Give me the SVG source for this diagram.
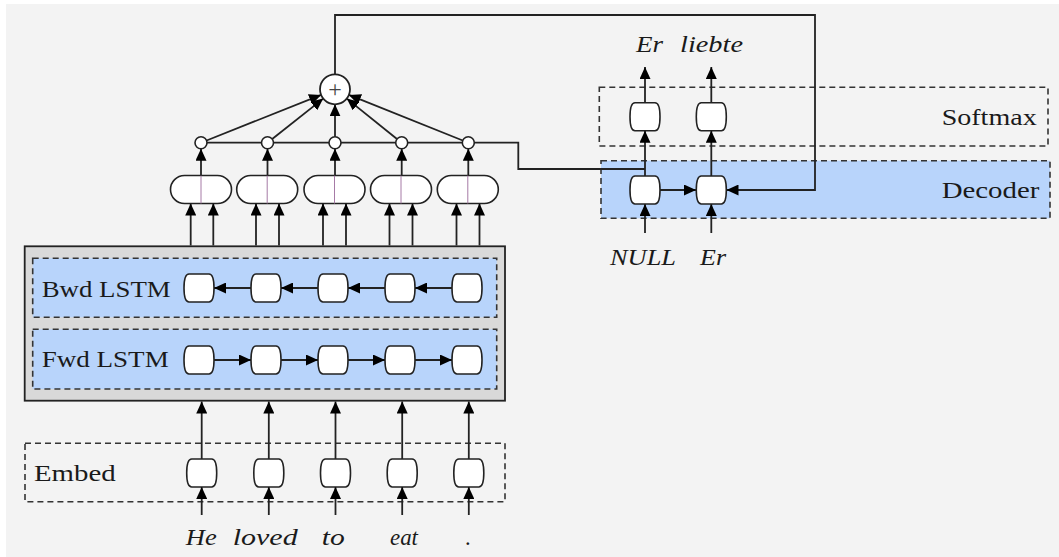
<svg xmlns="http://www.w3.org/2000/svg" width="1059" height="557" viewBox="0 0 1059 557">
<style>
.lbl{font-family:"Liberation Serif","Times New Roman",serif;font-size:23px;fill:#1a1a1a}
.it{font-family:"Liberation Serif","Times New Roman",serif;font-size:23px;font-style:italic;fill:#1a1a1a}
.dash{stroke:#333;stroke-width:1.6;stroke-dasharray:6 4}
.cell{fill:#fff;stroke:#222;stroke-width:1.6}
.ln{fill:none;stroke:#222;stroke-width:1.8}
.ar{fill:none;stroke:#222;stroke-width:1.8;marker-end:url(#ah)}
</style>
<defs>
<marker id="ah" markerUnits="userSpaceOnUse" markerWidth="13" markerHeight="11" refX="12" refY="5.5" orient="auto">
<path d="M0,0 L12,5.5 L0,11 z" fill="#000"/>
</marker>
<path id="c" d="M-10,-14 H10 C14,-14 15,-6 15,0 C15,6 14,14 10,14 H-10 C-14,14 -15,6 -15,0 C-15,-6 -14,-14 -10,-14 Z"/>
<g id="pill"><rect x="-30.5" y="-14" width="61" height="28" rx="14" ry="14" fill="#fff" stroke="#222" stroke-width="1.6"/><line x1="0" y1="-14" x2="0" y2="14" stroke="#a67aa6" stroke-width="1"/></g>
</defs>
<rect x="0" y="0" width="1059" height="557" fill="#fff"/>
<rect x="6" y="4" width="1053" height="553" fill="#f3f3f3"/>

<g id="encoder">
<rect x="24.7" y="246.3" width="480.3" height="154.4" fill="#d9d9d9" stroke="#222" stroke-width="1.8"/>
</g>
<g id="bwd">
<rect x="32.7" y="258.3" width="464" height="59" fill="#b8d4fb" class="dash"/>
<text class="lbl" x="41.7" y="296.7" textLength="129" lengthAdjust="spacingAndGlyphs">Bwd LSTM</text>
<use href="#c" x="199" y="288" class="cell"/><use href="#c" x="266" y="288" class="cell"/><use href="#c" x="333" y="288" class="cell"/><use href="#c" x="400" y="288" class="cell"/><use href="#c" x="467" y="288" class="cell"/>
</g>
<g id="fwd">
<rect x="32.7" y="329.3" width="464" height="59.7" fill="#b8d4fb" class="dash"/>
<text class="lbl" x="41.7" y="366.7" textLength="127" lengthAdjust="spacingAndGlyphs">Fwd LSTM</text>
<use href="#c" x="199" y="360" class="cell"/><use href="#c" x="266" y="360" class="cell"/><use href="#c" x="333" y="360" class="cell"/><use href="#c" x="400" y="360" class="cell"/><use href="#c" x="467" y="360" class="cell"/>
</g>
<g id="embed">
<rect x="25" y="443.3" width="480" height="58.4" fill="none" class="dash"/>
<text class="lbl" x="34" y="480.7" textLength="81.7" lengthAdjust="spacingAndGlyphs">Embed</text>
<use href="#c" x="201.7" y="473" class="cell"/><use href="#c" x="268.8" y="473" class="cell"/><use href="#c" x="335.5" y="473" class="cell"/><use href="#c" x="402.2" y="473" class="cell"/><use href="#c" x="468.8" y="473" class="cell"/>
</g>
<g id="words">
<text class="it" x="185.7" y="545" textLength="31" lengthAdjust="spacingAndGlyphs">He</text>
<text class="it" x="232.7" y="545" textLength="65" lengthAdjust="spacingAndGlyphs">loved</text>
<text class="it" x="321.7" y="545" textLength="23" lengthAdjust="spacingAndGlyphs">to</text>
<text class="it" x="390" y="545" textLength="28" lengthAdjust="spacingAndGlyphs">eat</text>
<text class="it" x="465.5" y="545">.</text>
</g>
<g id="concat">
<use href="#pill" x="201" y="189.5"/><use href="#pill" x="267.2" y="189.5"/><use href="#pill" x="334.5" y="189.5"/><use href="#pill" x="401" y="189.5"/><use href="#pill" x="467.8" y="189.5"/>
</g>
<g id="softmax">
<rect x="599.3" y="87.3" width="448.7" height="58.7" fill="none" class="dash"/>
<text class="lbl" x="941.7" y="125" textLength="95" lengthAdjust="spacingAndGlyphs">Softmax</text>
<use href="#c" x="645" y="116.7" class="cell"/><use href="#c" x="711.3" y="116.7" class="cell"/>
</g>
<g id="decoder">
<rect x="601" y="160.7" width="449" height="57.6" fill="#b8d4fb" class="dash"/>
<text class="lbl" x="941.7" y="198" textLength="97.6" lengthAdjust="spacingAndGlyphs">Decoder</text>
</g>
<g id="outwords">
<text class="it" x="636" y="52.3" textLength="27" lengthAdjust="spacingAndGlyphs">Er</text>
<text class="it" x="680" y="52.3" textLength="63" lengthAdjust="spacingAndGlyphs">liebte</text>
<text class="it" x="610" y="265" textLength="66" lengthAdjust="spacingAndGlyphs">NULL</text>
<text class="it" x="700" y="265" textLength="26" lengthAdjust="spacingAndGlyphs">Er</text>
</g>

<g id="connectors">
<line class="ar" x1="251" y1="288" x2="214" y2="288"/>
<line class="ar" x1="318" y1="288" x2="281" y2="288"/>
<line class="ar" x1="385" y1="288" x2="348" y2="288"/>
<line class="ar" x1="452" y1="288" x2="415" y2="288"/>
<line class="ar" x1="214" y1="360" x2="251" y2="360"/>
<line class="ar" x1="281" y1="360" x2="318" y2="360"/>
<line class="ar" x1="348" y1="360" x2="385" y2="360"/>
<line class="ar" x1="415" y1="360" x2="452" y2="360"/>
<line class="ar" x1="201.7" y1="515" x2="201.7" y2="487"/>
<line class="ar" x1="268.8" y1="515" x2="268.8" y2="487"/>
<line class="ar" x1="335.5" y1="515" x2="335.5" y2="487"/>
<line class="ar" x1="402.2" y1="515" x2="402.2" y2="487"/>
<line class="ar" x1="468.8" y1="515" x2="468.8" y2="487"/>
<line class="ar" x1="201.7" y1="459" x2="201.7" y2="401.5"/>
<line class="ar" x1="268.8" y1="459" x2="268.8" y2="401.5"/>
<line class="ar" x1="335.5" y1="459" x2="335.5" y2="401.5"/>
<line class="ar" x1="402.2" y1="459" x2="402.2" y2="401.5"/>
<line class="ar" x1="468.8" y1="459" x2="468.8" y2="401.5"/>
<line class="ar" x1="190.7" y1="245.5" x2="190.7" y2="203.5"/><line class="ar" x1="213.3" y1="245.5" x2="213.3" y2="203.5"/>
<line class="ar" x1="256" y1="245.5" x2="256" y2="203.5"/><line class="ar" x1="279" y1="245.5" x2="279" y2="203.5"/>
<line class="ar" x1="323" y1="245.5" x2="323" y2="203.5"/><line class="ar" x1="346" y1="245.5" x2="346" y2="203.5"/>
<line class="ar" x1="389.5" y1="245.5" x2="389.5" y2="203.5"/><line class="ar" x1="412.5" y1="245.5" x2="412.5" y2="203.5"/>
<line class="ar" x1="456.5" y1="245.5" x2="456.5" y2="203.5"/><line class="ar" x1="479.5" y1="245.5" x2="479.5" y2="203.5"/>
<line class="ar" x1="201" y1="175.5" x2="201" y2="148.7"/>
<line class="ar" x1="267.5" y1="175.5" x2="267.5" y2="148.7"/>
<line class="ar" x1="335" y1="175.5" x2="335" y2="148.7"/>
<line class="ar" x1="401.7" y1="175.5" x2="401.7" y2="148.7"/>
<line class="ar" x1="468.3" y1="175.5" x2="468.3" y2="148.7"/>
<path class="ln" d="M201,142.7 H518.3 V169 H645"/>
<line class="ar" x1="206.6" y1="140.5" x2="321.1" y2="94.9"/>
<line class="ar" x1="272.2" y1="139" x2="323.2" y2="98.6"/>
<line class="ar" x1="335" y1="136.7" x2="335" y2="104.3"/>
<line class="ar" x1="397" y1="139" x2="346.8" y2="98.6"/>
<line class="ar" x1="462.7" y1="140.5" x2="348.9" y2="94.9"/>
<path class="ar" d="M335,74.3 V15 H815 V190 H726.5"/>
<line class="ar" x1="660" y1="190" x2="696" y2="190"/>
<line class="ar" x1="645" y1="233" x2="645" y2="204"/>
<line class="ar" x1="711.3" y1="233" x2="711.3" y2="204"/>
<line class="ar" x1="645" y1="176" x2="645" y2="130.7"/>
<line class="ar" x1="711.3" y1="176" x2="711.3" y2="130.7"/>
<line class="ar" x1="645" y1="102.7" x2="645" y2="67"/>
<line class="ar" x1="711.3" y1="102.7" x2="711.3" y2="67"/>
</g>
<g id="dec-cells">
<use href="#c" x="645" y="190" class="cell"/><use href="#c" x="711.3" y="190" class="cell"/>
</g>
<g id="attn">
<circle cx="201" cy="142.7" r="6" fill="#fff" stroke="#222" stroke-width="1.6"/>
<circle cx="267.5" cy="142.7" r="6" fill="#fff" stroke="#222" stroke-width="1.6"/>
<circle cx="335" cy="142.7" r="6" fill="#fff" stroke="#222" stroke-width="1.6"/>
<circle cx="401.7" cy="142.7" r="6" fill="#fff" stroke="#222" stroke-width="1.6"/>
<circle cx="468.3" cy="142.7" r="6" fill="#fff" stroke="#222" stroke-width="1.6"/>
</g>
<g id="plus">
<circle cx="335" cy="89.3" r="15" fill="#fff" stroke="#222" stroke-width="1.8"/>
<text x="335" y="97" text-anchor="middle" style="font-family:'Liberation Serif',serif;font-size:24px;fill:#444">+</text>
</g>
</svg>
